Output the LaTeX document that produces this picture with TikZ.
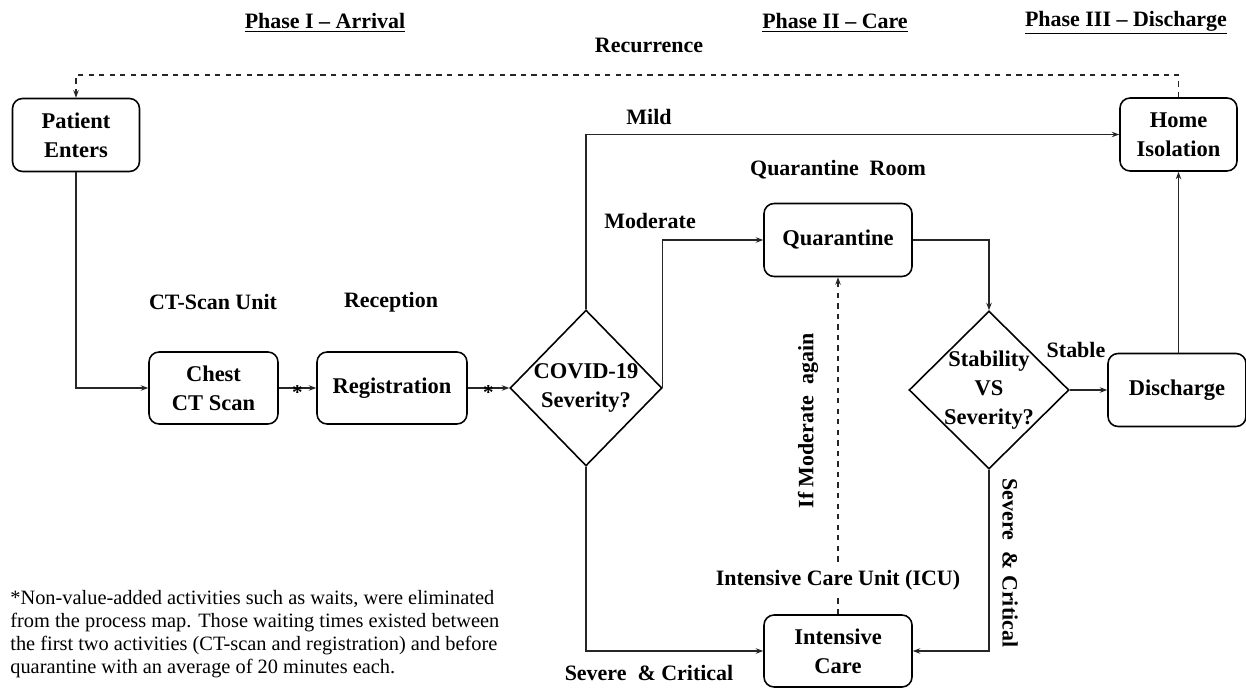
\documentclass[tikz,border=0pt]{standalone}
\usepackage{fontspec}
\setmainfont{Liberation Serif}
\usetikzlibrary{arrows.meta,shapes.geometric}

\begin{document}
\begin{tikzpicture}[x=0.02cm,y=-0.02cm,>={Stealth[length=1.5mm,width=1.1mm]},
  box/.style={draw,rounded corners=0.2cm,line width=0.9pt,align=center,inner sep=0pt,
    font=\fontsize{12.8}{16.3}\selectfont\bfseries},
  dia/.style={draw,diamond,line width=0.9pt,inner sep=0pt},
  dtxt/.style={align=center,font=\fontsize{12.8}{16.3}\selectfont\bfseries},
  lbl/.style={font=\fontsize{12.5}{14}\selectfont\bfseries},
  wait/.style={font=\fontsize{12}{12}\selectfont\bfseries,inner sep=1pt,yshift=-2.5pt},
  flow/.style={->,line width=0.6pt,draw=black!85}]
\useasboundingbox (0,0) rectangle (1246,688);

% phases
\node[lbl] (ph1) at (325,23) {\underline{Phase I -- Arrival}};
\node[lbl] (ph2) at (835,23) {\underline{Phase II -- Care}};
\node[lbl] (ph3) at (1126,23) {\underline{Phase III -- Discharge}};
\node[lbl] (rectxt) at (649,45) {Recurrence};

% boxes
\node[box,minimum width=2.54cm,minimum height=1.46cm] (pat) at (76,135) {Patient\\Enters};
\node[box,minimum width=2.34cm,minimum height=1.46cm] (home) at (1178.5,134.5) {Home\\Isolation};
\node[box,minimum width=2.58cm,minimum height=1.44cm] (chest) at (213.5,388) {Chest\\CT Scan};
\node[box,minimum width=3.0cm,minimum height=1.44cm] (reg) at (392,388) {Registration};
\node[box,minimum width=2.96cm,minimum height=1.46cm] (quar) at (838,240) {Quarantine};
\node[box,minimum width=2.76cm,minimum height=1.46cm] (disch) at (1177,390) {Discharge};
\node[box,minimum width=2.96cm,minimum height=1.44cm] (icu) at (838,651) {Intensive\\Care};
\node[dia,minimum width=3.04cm,minimum height=3.12cm,
  label={[dtxt]center:COVID-19\\Severity?}] (cov) at (586,388) {};
\node[dia,minimum width=3.2cm,minimum height=3.16cm,
  label={[dtxt]center:Stability\\VS\\Severity?}] (stab) at (989,390) {};

% places and branches
\node[lbl] (ctu) at (213,302) {CT-Scan Unit};
\node[lbl] (rcp) at (391,302) {Reception};
\node[lbl] (qroom) at (838,170) {Quarantine\ \ Room};
\node[lbl] (mild) at (649,117) {Mild};
\node[lbl] (mod) at (650,221) {Moderate};
\node[lbl] (stb) at (1076,350) {Stable};
\node[lbl] (sev1) at (649,673) {Severe \ \& Critical};
\node[lbl,rotate=-90] (sev2) at (1010,563) {Severe \ \& Critical};
\node[lbl,rotate=90] (again) at (808,421) {If Moderate \ again};

% flow
\draw[flow] (pat.south) |- (chest.west);
\draw[flow] (chest.east) -- node[wait]{*} (reg.west);
\draw[flow] (reg.east) -- node[wait]{*} (cov.west);
\draw[flow] (cov.north) |- (home.west);
\draw[flow] (cov.east) |- (quar.west);
\draw[flow] (quar.east) -| (stab.north);
\draw[flow] (stab.east) -- (disch.west);
\draw[flow] (home.south |- disch.north) -- (home.south);
\draw[flow] (stab.south) |- (icu.east);
\draw[flow] (cov.south) |- (icu.west);
\draw[flow,dashed] (icu.north) -- (quar.south);
\node[lbl,fill=white,inner sep=2pt] (icutxt) at (838,580) {Intensive Care Unit (ICU)};

% recurrence
\coordinate (rec) at (0,75);
\draw[flow,dashed] (home.north) -- (home.north |- rec) -| (pat.north);

% note
\node[anchor=north west,align=left,inner sep=0pt,font=\fontsize{11.6}{13}\selectfont] (note) at (10,590)
  {*Non-value-added activities such as waits, were eliminated\\
   from the process map. Those waiting times existed between\\
   the first two activities (CT-scan and registration) and before\\
   quarantine with an average of 20 minutes each.};
\end{tikzpicture}
\end{document}
